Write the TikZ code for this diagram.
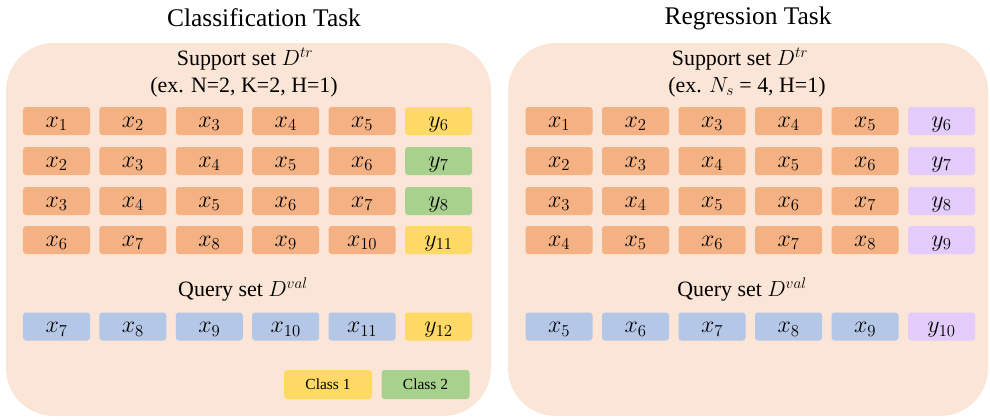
\documentclass[tikz,border=0pt]{standalone}
\usepackage{fix-cm}
\usepackage{fontspec}
\setmainfont{Liberation Serif}
\definecolor{panel}{HTML}{FBE5D6}
\definecolor{xcol}{HTML}{F4B183}
\definecolor{ycol}{HTML}{FFD966}
\definecolor{gcol}{HTML}{A9D18E}
\definecolor{bcol}{HTML}{B4C7E7}
\definecolor{pcol}{HTML}{E3CCFC}
\tikzset{
  panelbox/.style={fill=panel, rounded corners=48bp},
  cell/.style={rounded corners=3bp, minimum width=67bp, minimum height=28bp, inner sep=0pt, text height=14bp, text depth=2bp, font=\fontsize{24}{25}\selectfont},
  xcell/.style={cell, fill=xcol},
  ycell/.style={cell, fill=ycol},
  gcell/.style={cell, fill=gcol},
  qcell/.style={cell, fill=bcol},
  pcell/.style={cell, fill=pcol},
  legend/.style={rounded corners=3bp, minimum width=88bp, minimum height=29bp, inner sep=0pt, font=\fontsize{15.5}{16}\selectfont},
  title/.style={font=\fontsize{25.5}{27}\selectfont},
  sub/.style={font=\fontsize{22}{24}\selectfont},
}
\begin{document}
\begin{tikzpicture}[x=1bp, y=-1bp]
\useasboundingbox (0,0) rectangle (990,419);
% panels
\path[panelbox] (6,43) rectangle (491,416);
\path[panelbox] (508,43) rectangle (988,416);
% titles
\node[title] (tl) at (264,18) {Classification Task};
\node[title] (tr) at (748,18) {Regression Task};
\node[sub] (sl) at (245,59) {Support set $D^{tr}$};
\node[sub] (el) at (244,87) {(ex. N=2, K=2, H=1)};
\node[sub] (sr) at (740,59) {Support set $D^{tr}$};
\node[sub] (er) at (747,87) {(ex. $N_s$ = 4, H=1)};
\node[sub] (ql) at (243,290) {Query set $D^{val}$};
\node[sub] (qr) at (742,290) {Query set $D^{val}$};
% left support rows
\foreach \r/\y/\a/\lab/\st in {1/121/1/6/ycell, 2/161/2/7/gcell, 3/201/3/8/gcell, 4/240/6/11/ycell}{
  \foreach \c in {0,...,4}{
    \pgfmathtruncatemacro{\k}{\a+\c}
    \node[xcell] (L\r\c) at ({56.5+76.4*\c},\y) {$x_{\k}$};
  }
  \node[\st] (L\r5) at ({56.5+76.4*5},\y) {$y_{\lab}$};
}
% left query row
\foreach \c in {0,...,4}{
  \pgfmathtruncatemacro{\k}{7+\c}
  \node[qcell] (LQ\c) at ({56.5+76.4*\c},326.5) {$x_{\k}$};
}
\node[ycell] (LQ5) at ({56.5+76.4*5},326.5) {$y_{12}$};
% right support rows
\foreach \r/\y/\a in {1/121/1, 2/161/2, 3/201/3, 4/240/4}{
  \foreach \c in {0,...,4}{
    \pgfmathtruncatemacro{\k}{\a+\c}
    \node[xcell] (R\r\c) at ({559+76.5*\c},\y) {$x_{\k}$};
  }
  \pgfmathtruncatemacro{\m}{\a+5}
  \node[pcell] (R\r5) at ({559+76.5*5},\y) {$y_{\m}$};
}
% right query row
\foreach \c in {0,...,4}{
  \pgfmathtruncatemacro{\k}{5+\c}
  \node[qcell] (RQ\c) at ({559+76.5*\c},326.5) {$x_{\k}$};
}
\node[pcell] (RQ5) at ({559+76.5*5},326.5) {$y_{10}$};
% legend
\node[legend, fill=ycol] (c1) at (328,384.5) {Class 1};
\node[legend, fill=gcol] (c2) at (425.5,384.5) {Class 2};
\end{tikzpicture}
\end{document}
